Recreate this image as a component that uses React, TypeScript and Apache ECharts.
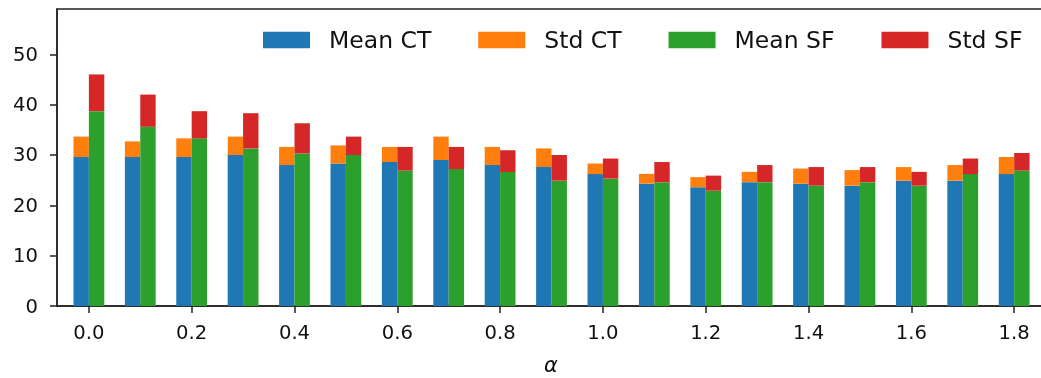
import React, { useEffect, useRef } from "react";
import * as echarts from "echarts";

const alphas = [0.0, 0.1, 0.2, 0.3, 0.4, 0.5, 0.6, 0.7, 0.8, 0.9, 1.0, 1.1, 1.2, 1.3, 1.4, 1.5, 1.6, 1.7, 1.8];
const meanCT = [29.6, 29.6, 29.6, 30.0, 28.0, 28.3, 28.6, 29.0, 28.0, 27.6, 26.2, 24.3, 23.6, 24.6, 24.3, 23.9, 24.9, 24.9, 26.2];
const stdCT = [4.05, 3.1, 3.7, 3.65, 3.6, 3.6, 3.0, 4.65, 3.6, 3.7, 2.1, 1.95, 2.0, 2.05, 3.0, 3.1, 2.7, 3.1, 3.4];
const meanSF = [38.7, 35.6, 33.3, 31.3, 30.3, 30.0, 26.9, 27.2, 26.6, 24.9, 25.3, 24.6, 22.9, 24.6, 23.9, 24.6, 23.9, 26.2, 26.9];
const stdSF = [7.3, 6.4, 5.4, 7.0, 6.0, 3.65, 4.7, 4.4, 4.35, 5.1, 4.0, 4.0, 3.0, 3.4, 3.7, 3.0, 2.75, 3.1, 3.5];
const xTicks = [0.0, 0.2, 0.4, 0.6, 0.8, 1.0, 1.2, 1.4, 1.6, 1.8];
const yTicks = [0, 10, 20, 30, 40, 50];
const seriesNames = ["Mean CT", "Std CT", "Mean SF", "Std SF"];
const colors = ["#1f77b4", "#ff7f0e", "#2ca02c", "#d62728"];

const FONT = "DejaVu Sans";
const AXIS = "#222";

export default function App() {
  const ref = useRef<HTMLDivElement>(null);
  useEffect(() => {
    if (!ref.current) return;
    const chart = echarts.init(ref.current, undefined, { renderer: "svg" });
    // value first, alpha second, so the stack acts on the value dimension
    const pair = (arr: number[]) => arr.map((v, i) => [v, alphas[i]]);
    const mk = (name: string, data: number[], stack: string, color: string) => ({
      name,
      type: "bar",
      stack,
      data: pair(data),
      encode: { x: 1, y: 0 },
      barWidth: 15.4,
      barGap: "0%",
      itemStyle: { color },
      emphasis: { disabled: true },
    });
    chart.setOption({
      animation: false,
      textStyle: { fontFamily: FONT },
      grid: {
        left: 57,
        right: -4,
        top: 9,
        bottom: 72,
        containLabel: false,
        outerBoundsMode: "none",
        show: true,
        borderColor: AXIS,
        borderWidth: 1.5,
        backgroundColor: "transparent",
      },
      legend: {
        left: 263,
        top: 28,
        padding: 0,
        icon: "rect",
        itemWidth: 47,
        itemHeight: 16.5,
        itemGap: 47,
        data: seriesNames,
        textStyle: { fontFamily: FONT, fontSize: 23.5, color: "#111", padding: [0, 0, 0, 14] },
      },
      xAxis: {
        type: "value",
        min: -0.062,
        max: 1.86,
        splitLine: { show: false },
        axisLine: { show: true, onZero: false, lineStyle: { color: AXIS, width: 1.5 } },
        axisTick: { show: true, length: 7, customValues: xTicks, lineStyle: { color: AXIS, width: 1.5 } },
        axisLabel: {
          customValues: xTicks,
          formatter: (v: number) => v.toFixed(1),
          fontFamily: FONT,
          fontSize: 19.6,
          color: "#111",
          margin: 16,
        },
        name: "α",
        nameLocation: "middle",
        nameGap: 48,
        nameTextStyle: { fontFamily: FONT, fontSize: 21, fontStyle: "italic", color: "#111" },
      },
      yAxis: {
        type: "value",
        min: 0,
        max: 59,
        splitLine: { show: false },
        axisLine: { show: true, onZero: false, lineStyle: { color: AXIS, width: 1.5 } },
        axisTick: { show: true, length: 7, customValues: yTicks, lineStyle: { color: AXIS, width: 1.5 } },
        axisLabel: {
          customValues: yTicks,
          fontFamily: FONT,
          fontSize: 19.6,
          color: "#111",
          margin: 19,
        },
      },
      series: [
        mk(seriesNames[0], meanCT, "ct", colors[0]),
        mk(seriesNames[1], stdCT, "ct", colors[1]),
        mk(seriesNames[2], meanSF, "sf", colors[2]),
        mk(seriesNames[3], stdSF, "sf", colors[3]),
      ],
    });
    return () => chart.dispose();
  }, []);
  return <div ref={ref} style={{ position: "fixed", left: 0, top: 0, width: 1041, height: 378 }} />;
}
